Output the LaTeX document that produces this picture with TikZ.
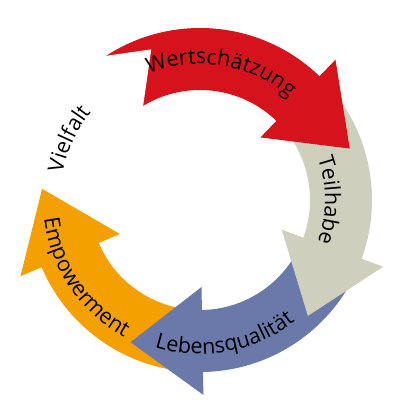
\documentclass[tikz,border=0pt]{standalone}
\usepackage{fontspec}
\setmainfont{Open Sans}
\usetikzlibrary{decorations.text}
\definecolor{wertred}{HTML}{D6131C}
\definecolor{teilgrey}{HTML}{CFCFBE}
\definecolor{lebenblue}{HTML}{6A79AA}
\definecolor{emporange}{HTML}{F4A000}
\newcommand\cyclabel{\fontsize{15.3}{18}\selectfont}

\begin{document}
\begin{tikzpicture}[x=0.025cm, y=0.025cm]
	\useasboundingbox (-200,-200) rectangle (200,200);
	% bodies of the arrows
	\fill[white] (200:110) arc[start angle=200, end angle=134, radius=110] -- (134:172) arc[start angle=134, end angle=200, radius=172] -- cycle;
	\fill[emporange] (268:110) arc[start angle=268, end angle=202, radius=110] -- (202:172) arc[start angle=202, end angle=268, radius=172] -- cycle;
	\fill[lebenblue] (337:110) arc[start angle=337, end angle=270, radius=110] -- (270:172) arc[start angle=270, end angle=337, radius=172] -- cycle;
	\fill[teilgrey] (43:110) arc[start angle=43, end angle=-21, radius=110] -- (-21:172) arc[start angle=-21, end angle=43, radius=172] -- cycle;
	\fill[wertred] (132:110) arc[start angle=132, end angle=45, radius=110] -- (45:172) arc[start angle=45, end angle=132, radius=172] -- cycle;
	% heads
	\fill[white] (135:87) -- (135:195) -- ([shift={(45:72)}]135:141) -- cycle;
	\fill[emporange] (203:87) -- (203:195) -- ([shift={(113:72)}]203:141) -- cycle;
	\fill[lebenblue] (271:87) -- (271:195) -- ([shift={(181:72)}]271:141) -- cycle;
	\fill[teilgrey] (-20:87) -- (-20:195) -- ([shift={(-110:72)}]-20:141) -- cycle;
	\fill[wertred] (46:87) -- (46:195) -- ([shift={(-44:72)}]46:141) -- cycle;
	% labels
	\path[decorate, decoration={text along path, text align=center, text={|\cyclabel|Wertschätzung}}] (130:136) arc[start angle=130, end angle=31, radius=136];
	\path[decorate, decoration={text along path, text align=center, text={|\cyclabel|Teilhabe}}] (50:125) arc[start angle=50, end angle=-50, radius=125];
	\path[decorate, decoration={text along path, text align=center, text={|\cyclabel|Lebensqualität}}] (228:154) arc[start angle=228, end angle=333, radius=154];
	\path[decorate, decoration={text along path, text align=center, text={|\cyclabel|Empowerment}}] (160:157) arc[start angle=160, end angle=268, radius=157];
	\path[decorate, decoration={text along path, text align=center, text={|\cyclabel|Vielfalt}}] (185:140) arc[start angle=185, end angle=125, radius=140];
\end{tikzpicture}
\end{document}
